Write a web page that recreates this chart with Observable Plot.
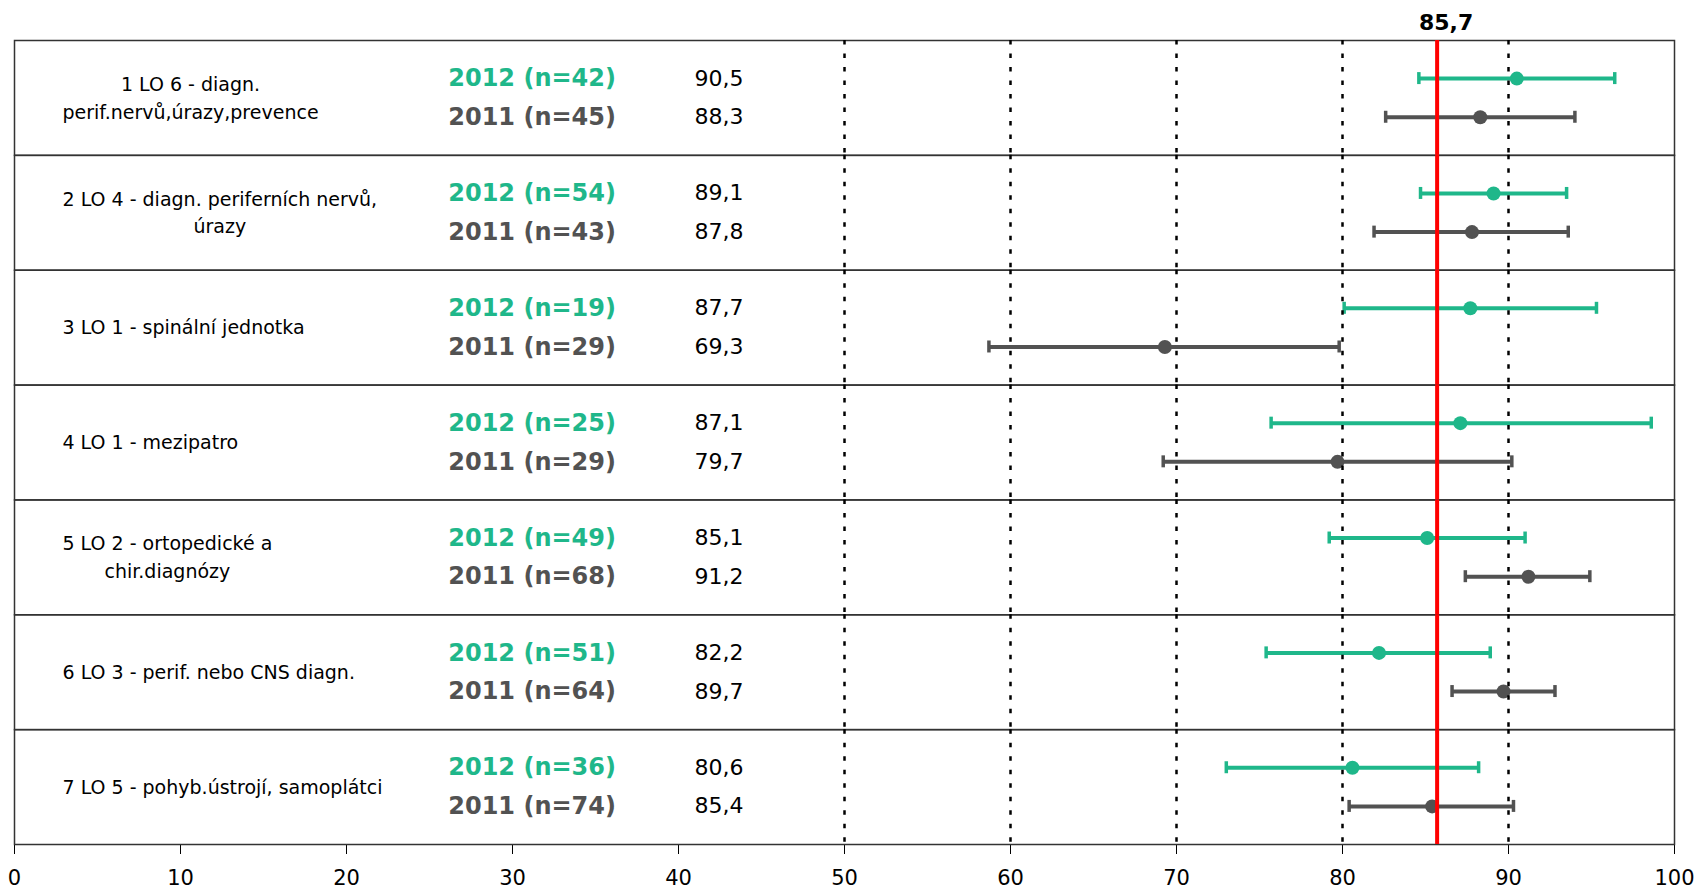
<!DOCTYPE html>
<html><head><meta charset="utf-8">
<script src="https://cdn.jsdelivr.net/npm/d3@7"></script>
<script src="https://cdn.jsdelivr.net/npm/@observablehq/plot@0.6"></script>
<style>body{margin:0;background:#fff} #chart svg{display:block}</style>
</head><body><div id="chart"></div>
<script>
const categories = [
  "1 LO 6 - diagn.\nperif.nervů,úrazy,prevence",
  "2 LO 4 - diagn. periferních nervů,\núrazy",
  "3 LO 1 - spinální jednotka",
  "4 LO 1 - mezipatro",
  "5 LO 2 - ortopedické a\nchir.diagnózy",
  "6 LO 3 - perif. nebo CNS diagn.",
  "7 LO 5 - pohyb.ústrojí, samoplátci"
];
const years = ["2012", "2011"];
const n2012 = [42, 54, 19, 25, 49, 51, 36];
const n2011 = [45, 43, 29, 29, 68, 64, 74];
const mean2012 = [90.5, 89.1, 87.7, 87.1, 85.1, 82.2, 80.6];
const low2012  = [84.6, 84.7, 80.1, 75.7, 79.2, 75.4, 73.0];
const high2012 = [96.4, 93.5, 95.3, 98.6, 91.0, 88.9, 88.2];
const mean2011 = [88.3, 87.8, 69.3, 79.7, 91.2, 89.7, 85.4];
const low2011  = [82.6, 81.9, 58.7, 69.2, 87.4, 86.6, 80.4];
const high2011 = [94.0, 93.6, 79.8, 90.2, 94.9, 92.8, 90.3];
const overall = 85.7;
const xTicks = [0, 10, 20, 30, 40, 50, 60, 70, 80, 90, 100];
const gridTicks = [50, 60, 70, 80, 90];

const rows = [];
categories.forEach((c, i) => {
  rows.push({cat: c, year: "2012", n: n2012[i], mean: mean2012[i], low: low2012[i], high: high2012[i]});
  rows.push({cat: c, year: "2011", n: n2011[i], mean: mean2011[i], low: low2011[i], high: high2011[i]});
});
const fmt = v => v.toFixed(1).replace(".", ",");
const GREEN = "#1fb78a", GRAY = "#525252";
const FONT = "DejaVu Sans";

const ctx = document.createElement("canvas").getContext("2d");
ctx.font = `19px "${FONT}"`;
const labelLeft = 48;
const catMarks = categories.map(c => {
  const w = d3.max(c.split("\n"), l => ctx.measureText(l).width);
  return Plot.text([c], {fy: d => d, text: d => d, frameAnchor: "left", textAnchor: "middle",
    dx: labelLeft + w / 2, dy: -2, fontSize: 19, lineHeight: 1.45, fill: "black"});
});

const plot = Plot.plot({
  width: 1696, height: 891,
  marginTop: 40, marginBottom: 47, marginLeft: 14, marginRight: 22,
  style: {fontFamily: FONT, fontSize: "21px", color: "black", background: "white"},
  x: {domain: [0, 100], ticks: xTicks, tickSize: 10, tickPadding: 16, line: true, label: null},
  y: {domain: years, axis: null, paddingInner: 0.69, paddingOuter: 0.83, round: false},
  fy: {domain: categories, axis: null, padding: 0, round: false},
  color: {domain: years, range: [GREEN, GRAY]},
  marks: [
    Plot.frame({stroke: "#333", strokeWidth: 1.5}),
    Plot.ruleY(rows, {fy: "cat", y: "year", x1: "low", x2: "high", stroke: "year", strokeWidth: 4}),
    Plot.tickX(rows, {fy: "cat", y: "year", x: "low", stroke: "year", strokeWidth: 3.5}),
    Plot.tickX(rows, {fy: "cat", y: "year", x: "high", stroke: "year", strokeWidth: 3.5}),
    Plot.dot(rows, {fy: "cat", y: "year", x: "mean", fill: "year", r: 7}),
    Plot.ruleX(gridTicks, {stroke: "black", strokeWidth: 2.5, strokeDasharray: "4.5,9"}),
    Plot.ruleX([overall], {stroke: "#ff0000", strokeWidth: 4}),
    Plot.text(rows, {fy: "cat", y: "year", text: d => `${d.year} (n=${d.n})`, frameAnchor: "left",
      textAnchor: "middle", dx: 517.6, fill: "year", fontWeight: "bold", fontSize: 24}),
    Plot.text(rows, {fy: "cat", y: "year", text: d => fmt(d.mean), frameAnchor: "left",
      textAnchor: "start", dx: 680, fontSize: 22, fill: "black"}),
    Plot.text([{cat: categories[0], v: overall}], {fy: "cat", x: "v", text: d => fmt(d.v),
      frameAnchor: "top", lineAnchor: "middle", dy: -18, dx: 9, fontWeight: "bold", fontSize: 22, fill: "black"}),
    ...catMarks
  ]
});
document.getElementById("chart").appendChild(plot);
</script>
</body></html>
